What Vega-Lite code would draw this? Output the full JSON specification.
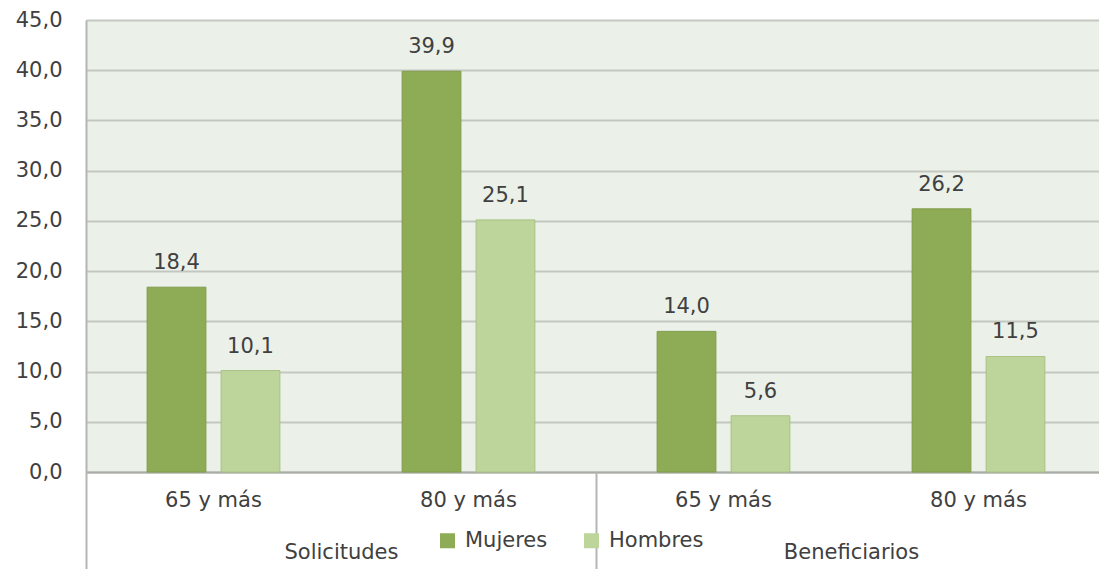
{
  "$schema": "https://vega.github.io/schema/vega-lite/v6.json",
  "autosize": {"type": "none"},
  "padding": {"left": 86, "top": 20, "right": 0, "bottom": 97},
  "width": 1013,
  "height": 452,
  "background": "#ffffff",
  "data": {
    "values": [
      {"clave": "Solicitudes|65 y más", "grupo": "Solicitudes", "edad": "65 y más", "sexo": "Mujeres", "valor": 18.4},
      {"clave": "Solicitudes|65 y más", "grupo": "Solicitudes", "edad": "65 y más", "sexo": "Hombres", "valor": 10.1},
      {"clave": "Solicitudes|80 y más", "grupo": "Solicitudes", "edad": "80 y más", "sexo": "Mujeres", "valor": 39.9},
      {"clave": "Solicitudes|80 y más", "grupo": "Solicitudes", "edad": "80 y más", "sexo": "Hombres", "valor": 25.1},
      {"clave": "Beneficiarios|65 y más", "grupo": "Beneficiarios", "edad": "65 y más", "sexo": "Mujeres", "valor": 14.0},
      {"clave": "Beneficiarios|65 y más", "grupo": "Beneficiarios", "edad": "65 y más", "sexo": "Hombres", "valor": 5.6},
      {"clave": "Beneficiarios|80 y más", "grupo": "Beneficiarios", "edad": "80 y más", "sexo": "Mujeres", "valor": 26.2},
      {"clave": "Beneficiarios|80 y más", "grupo": "Beneficiarios", "edad": "80 y más", "sexo": "Hombres", "valor": 11.5}
    ]
  },
  "layer": [
    {
      "encoding": {
        "x": {
          "field": "clave",
          "type": "nominal",
          "sort": null,
          "scale": {"paddingInner": 0, "paddingOuter": 0, "range": [0, 1020]},
          "axis": {
            "orient": "bottom",
            "title": null,
            "labelAngle": 0,
            "labelExpr": "split(datum.value, '|')[1]",
            "ticks": false,
            "tickSize": 0,
            "labelPadding": 17,
            "domain": true,
            "domainColor": "#a9aca6",
            "domainWidth": 2,
            "grid": false
          }
        },
        "xOffset": {
          "field": "sexo",
          "type": "nominal",
          "sort": ["Mujeres", "Hombres"],
          "scale": {"paddingInner": 0.2055, "paddingOuter": 0.826}
        },
        "y": {
          "field": "valor",
          "type": "quantitative",
          "scale": {"domain": [0, 45], "nice": false},
          "axis": {
            "title": null,
            "values": [0, 5, 10, 15, 20, 25, 30, 35, 40, 45],
            "format": ".1f",
            "ticks": false,
            "tickSize": 0,
            "labelPadding": 24,
            "domain": true,
            "domainColor": "#b4b6b1",
            "domainWidth": 2,
            "grid": true,
            "gridColor": "#c4c7c0",
            "gridWidth": 2
          }
        }
      },
      "layer": [
        {
          "mark": {"type": "bar", "strokeWidth": 1},
          "encoding": {
            "color": {
              "field": "sexo",
              "type": "nominal",
              "sort": ["Mujeres", "Hombres"],
              "scale": {"domain": ["Mujeres", "Hombres"], "range": ["#8eab55", "#bdd49b"]},
              "legend": {
                "title": null,
                "orient": "none",
                "direction": "horizontal",
                "legendX": 351,
                "legendY": 510,
                "symbolType": "square",
                "symbolSize": 225,
                "symbolStrokeWidth": 0,
                "labelOffset": 7,
                "columnPadding": 33,
                "labelFontSize": 21,
                "labelColor": "#404040",
                "labelFont": "DejaVu Sans"
              }
            },
            "stroke": {
              "field": "sexo",
              "type": "nominal",
              "scale": {"domain": ["Mujeres", "Hombres"], "range": ["#7f9c49", "#a8c282"]},
              "legend": null
            }
          }
        },
        {
          "mark": {
            "type": "text",
            "baseline": "alphabetic",
            "dy": -18,
            "fontSize": 21,
            "font": "DejaVu Sans",
            "color": "#404040"
          },
          "encoding": {
            "text": {"field": "valor", "type": "quantitative", "format": ".1f"}
          }
        }
      ]
    },
    {
      "mark": {"type": "text", "text": ""},
      "encoding": {
        "x": {
          "field": "grupo",
          "type": "nominal",
          "sort": ["Solicitudes", "Beneficiarios"],
          "scale": {"paddingInner": 0, "paddingOuter": 0, "range": [0, 1020]},
          "axis": {
            "orient": "bottom",
            "title": null,
            "labelAngle": 0,
            "ticks": false,
            "tickSize": 0,
            "domain": false,
            "grid": false,
            "labelPadding": 69
          }
        }
      }
    },
    {
      "mark": {"type": "text", "text": ""},
      "encoding": {
        "x": {
          "field": "grupo",
          "type": "nominal",
          "sort": ["Solicitudes", "Beneficiarios"],
          "scale": {"paddingInner": 0, "paddingOuter": 0, "range": [0, 1020]},
          "axis": {
            "orient": "bottom",
            "title": null,
            "labels": false,
            "ticks": true,
            "tickBand": "extent",
            "tickSize": 97,
            "tickColor": "#b4b6b1",
            "tickWidth": 2,
            "domain": false,
            "grid": false
          }
        }
      }
    }
  ],
  "resolve": {"scale": {"x": "independent"}},
  "config": {
    "locale": {
      "number": {"decimal": ",", "thousands": ".", "grouping": [3], "currency": ["", " €"]}
    },
    "view": {"fill": "#ebf1e9", "stroke": null},
    "axis": {
      "labelFont": "DejaVu Sans",
      "labelFontSize": 21,
      "labelColor": "#404040"
    },
    "text": {"font": "DejaVu Sans"}
  }
}
